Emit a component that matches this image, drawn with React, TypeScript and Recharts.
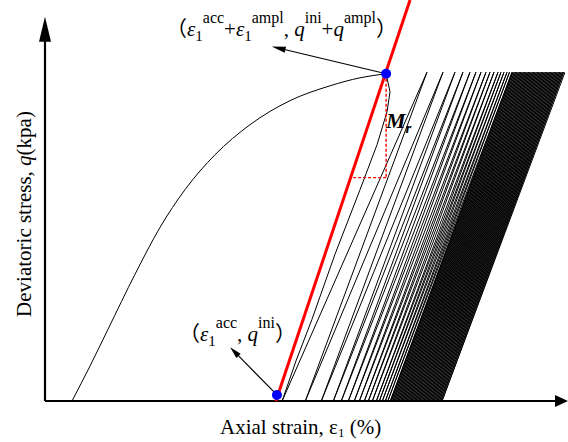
import React from 'react';
import { ComposedChart, Line, XAxis, YAxis, ReferenceLine, ReferenceDot } from 'recharts';

// Initial (monotonic) loading curve
const loadingStrain = [5.19, 8.65, 12.12, 17.31, 22.12, 26.92, 32.69, 39.42, 47.12, 54.81, 60.58, 65.6];
const loadingStress = [0, 8.7, 17.9, 31.6, 43.3, 52.7, 61.4, 68.9, 74.9, 78.6, 80.6, 81.6];

// First unloading branch
const firstUnloadStrain = [65.6, 66.35, 65.77, 63.85, 60.58, 55.77, 51.35, 48.27, 45.6];
const firstUnloadStress = [81.6, 77.1, 72.1, 63.9, 52.7, 36.6, 20.4, 10.0, 0];

// Subsequent cycles: peak strains and residual strains after unloading
const cyclePeakStrain = [
  73.46, 76.54, 78.85, 80.38, 81.73, 82.88, 83.85, 84.81, 85.58, 86.35, 87.12, 87.69, 88.27, 88.85, 89.33, 89.81,
  90, 90.25, 90.5, 90.75, 91, 91.25, 91.5, 91.75, 92, 92.25, 92.5, 92.75, 93, 93.25, 93.5, 93.75,
  94, 94.25, 94.5, 94.75, 95, 95.25, 95.5, 95.75, 96, 96.25, 96.5, 96.75, 97, 97.25, 97.5, 97.75,
  98, 98.25, 98.5, 98.75, 99, 99.25, 99.5, 99.75, 100,
];
const cycleResidualStrain = [
  50.06, 53.14, 55.45, 56.98, 58.33, 59.48, 60.45, 61.41, 62.18, 62.95, 63.72, 64.29, 64.87, 65.45, 65.93, 66.41,
  66.6, 66.85, 67.1, 67.35, 67.6, 67.85, 68.1, 68.35, 68.6, 68.85, 69.1, 69.35, 69.6, 69.85, 70.1, 70.35,
  70.6, 70.85, 71.1, 71.35, 71.6, 71.85, 72.1, 72.35, 72.6, 72.85, 73.1, 73.35, 73.6, 73.85, 74.1, 74.35,
  74.6, 74.85, 75.1, 75.35, 75.6, 75.85, 76.1, 76.35,
];
const cyclePeakStress = 82;

// Resilient-modulus line and marked points
const mrLineStrain = [44.4, 70.2];
const mrLineStress = [0, 100];
const accPoint = { x: 44.6, y: 1.5 };
const peakPoint = { x: 65.6, y: 81.6 };
const mrTriangleStress = 55.7;
const accLabelTip = { x: 35.6, y: 13.4 };
const peakLabelTip = { x: 43.6, y: 88.4 };
const xAxisEnd = 100.58;
const yAxisEnd = 95.8;

const loadingData = loadingStrain.map((x, i) => ({ x, y: loadingStress[i] }));
const cycleData: { x: number; y: number }[] = firstUnloadStrain.map((x, i) => ({ x, y: firstUnloadStress[i] }));
cyclePeakStrain.forEach((p, i) => {
  cycleData.push({ x: p, y: cyclePeakStress });
  if (i < cycleResidualStrain.length) cycleData.push({ x: cycleResidualStrain[i], y: 0 });
});

const mrAt = (q: number) =>
  mrLineStrain[0] + ((q - mrLineStress[0]) / (mrLineStress[1] - mrLineStress[0])) * (mrLineStrain[1] - mrLineStrain[0]);

const arrowShape = (headLen: number, headW: number, sw: number) => (props: any) => {
  const { x1, y1, x2, y2 } = props;
  const dx = x2 - x1;
  const dy = y2 - y1;
  const len = Math.hypot(dx, dy) || 1;
  const ux = dx / len;
  const uy = dy / len;
  const bx = x2 - ux * headLen;
  const by = y2 - uy * headLen;
  const px = (-uy * headW) / 2;
  const py = (ux * headW) / 2;
  return (
    <g>
      <line x1={x1} y1={y1} x2={bx + ux * 1} y2={by + uy * 1} stroke="#000" strokeWidth={sw} />
      <polygon points={`${x2},${y2} ${bx + px},${by + py} ${bx - px},${by - py}`} fill="#000" />
    </g>
  );
};

const serif = '"Liberation Serif", "Times New Roman", serif';
const cjk = '"Noto Sans CJK SC", "Liberation Serif", serif';

export default function App() {
  return (
    <div style={{ position: 'absolute', left: 0, top: 0, width: 568, height: 442, background: '#fff' }}>
      <ComposedChart width={568} height={442} margin={{ top: 0, right: 3, bottom: 41, left: 45 }}>
        <XAxis type="number" dataKey="x" domain={[0, 100]} allowDataOverflow hide />
        <YAxis type="number" dataKey="y" domain={[0, 100]} allowDataOverflow hide />
        <Line data={loadingData} dataKey="y" type="monotone" stroke="#000" strokeWidth={1} dot={false} isAnimationActive={false} />
        <Line data={cycleData} dataKey="y" type="linear" stroke="#000" strokeWidth={1} dot={false} isAnimationActive={false} />
        {/* axes */}
        <ReferenceLine segment={[{ x: 0, y: 0 }, { x: xAxisEnd, y: 0 }]} ifOverflow="visible" shape={arrowShape(13, 12, 2.2)} />
        <ReferenceLine segment={[{ x: 0, y: 0 }, { x: 0, y: yAxisEnd }]} ifOverflow="visible" shape={arrowShape(25, 12, 2.2)} />
        {/* Mr construction */}
        <ReferenceLine segment={[{ x: peakPoint.x, y: peakPoint.y }, { x: peakPoint.x, y: mrTriangleStress }]} stroke="#ff0000" strokeWidth={1.4} strokeDasharray="3 2" ifOverflow="visible" />
        <ReferenceLine segment={[{ x: peakPoint.x, y: mrTriangleStress }, { x: mrAt(mrTriangleStress), y: mrTriangleStress }]} stroke="#ff0000" strokeWidth={1.4} strokeDasharray="3 2" ifOverflow="visible" />
        <ReferenceLine segment={[{ x: mrLineStrain[0], y: mrLineStress[0] }, { x: mrLineStrain[1], y: mrLineStress[1] }]} stroke="#ff0000" strokeWidth={3} ifOverflow="visible" />
        {/* annotation arrows */}
        <ReferenceLine segment={[peakPoint, peakLabelTip]} ifOverflow="visible" shape={arrowShape(14, 6, 1.1)} />
        <ReferenceLine segment={[accPoint, accLabelTip]} ifOverflow="visible" shape={arrowShape(12, 6, 1.1)} />
        <ReferenceDot x={accPoint.x} y={accPoint.y} r={5} fill="#0000ff" stroke="none" ifOverflow="visible" />
        <ReferenceDot x={peakPoint.x} y={peakPoint.y} r={5} fill="#0000ff" stroke="none" ifOverflow="visible" />
      </ComposedChart>
      <svg width={568} height={442} style={{ position: 'absolute', left: 0, top: 0, pointerEvents: 'none' }}>
        <text x={166} y={36} fontFamily={serif} fontSize={21} fill="#000">
          <tspan fontFamily={cjk}>（</tspan>
          <tspan fontStyle="italic">ε</tspan>
          <tspan fontSize={15} dy={5}>1</tspan>
          <tspan fontSize={16} dy={-18}>acc</tspan>
          <tspan dy={13}>+</tspan>
          <tspan fontStyle="italic">ε</tspan>
          <tspan fontSize={15} dy={5}>1</tspan>
          <tspan fontSize={16} dy={-18}>ampl</tspan>
          <tspan dy={13}>, </tspan>
          <tspan fontStyle="italic">q</tspan>
          <tspan fontSize={16} dy={-13}>ini</tspan>
          <tspan dy={13}>+</tspan>
          <tspan fontStyle="italic">q</tspan>
          <tspan fontSize={16} dy={-13}>ampl</tspan>
          <tspan fontFamily={cjk} dy={13}>）</tspan>
        </text>
        <text x={179} y={341} fontFamily={serif} fontSize={21} fill="#000">
          <tspan fontFamily={cjk}>（</tspan>
          <tspan fontStyle="italic">ε</tspan>
          <tspan fontSize={15} dy={5}>1</tspan>
          <tspan fontSize={16} dy={-18}>acc</tspan>
          <tspan dy={13}>, </tspan>
          <tspan fontStyle="italic">q</tspan>
          <tspan fontSize={16} dy={-13}>ini</tspan>
          <tspan fontFamily={cjk} dy={13}>）</tspan>
        </text>
        <text x={386} y={128} fontFamily={serif} fontSize={22} fontWeight="bold" fontStyle="italic" fill="#000">
          M<tspan fontSize={15} dy={5}>r</tspan>
        </text>
        <text x={220} y={434} fontFamily={serif} fontSize={21} fill="#000">
          Axial strain, ε<tspan fontSize={13} dy={3}>1</tspan>
          <tspan dy={-3}> (%)</tspan>
        </text>
        <text transform="translate(31, 214) rotate(-90)" textAnchor="middle" fontFamily={serif} fontSize={21} fill="#000">
          Deviatoric stress, <tspan fontStyle="italic">q</tspan>(kpa)
        </text>
      </svg>
    </div>
  );
}
